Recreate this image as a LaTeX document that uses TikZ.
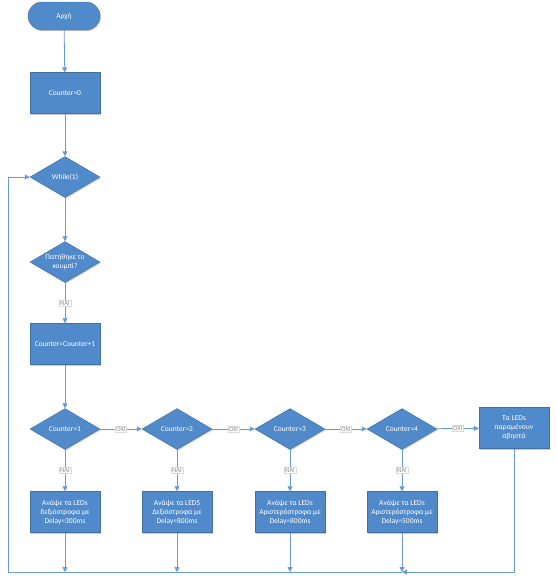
\documentclass[tikz,border=0pt]{standalone}
\usepackage{fontspec}
\setmainfont{Carlito}
\usetikzlibrary{arrows.meta,shapes.geometric,shadows}
\definecolor{flowblue}{HTML}{508ACA}
\definecolor{flowedge}{HTML}{41719C}
\definecolor{flowline}{HTML}{6A9BD0}
\tikzset{
    myshade/.style={drop shadow={shadow xshift=1pt,shadow yshift=-1pt,fill=black,opacity=0.2}},
    myblock/.style={rectangle,fill=flowblue,draw=flowedge,line width=0.4pt,minimum width=70pt,minimum height=41pt,inner sep=1pt,align=center,text=white,myshade},
    mydecision/.style={diamond,fill=flowblue,draw=flowedge,line width=0.4pt,minimum width=70pt,minimum height=41pt,inner sep=0pt,aspect=1.75,align=center,text=white,myshade},
    myterm/.style={rectangle,rounded corners=14pt,fill=flowblue,draw=flowedge,line width=0.4pt,minimum width=72pt,minimum height=28pt,text=white,myshade},
    myline/.style={line width=0.8pt,draw=flowline},
    myarrow/.style={myline,-{Triangle[length=5pt,width=5pt]}},
    mylabel/.style={fill=white,draw=black!15,line width=0.3pt,text=black!45,font=\fontsize{6.5}{7.5}\selectfont,inner sep=1pt},
    every node/.style={font=\fontsize{7.5}{9}\selectfont}
}
\begin{document}
\begin{tikzpicture}[x=1pt,y=-1pt]
  \useasboundingbox (0,0) rectangle (556,584);
  % main column
  \node[myterm] (start) at (64,16) {Αρχή};
  \node[myblock] (init) at (65,93) {Counter=0};
  \node[mydecision] (while) at (65,177) {While(1)};
  \node[mydecision] (button) at (65,262) {Πατήθηκε το\\κουμπί?};
  \node[myblock] (incr) at (65,344) {Counter=Counter+1};
  % checks
  \node[mydecision] (c1) at (65,429) {Counter=1};
  \node[mydecision] (c2) at (177,429) {Counter=2};
  \node[mydecision] (c3) at (290,429) {Counter=3};
  \node[mydecision] (c4) at (402,429) {Counter=4};
  \node[myblock] (off) at (514,428) {Τα LEDs\\παραμένουν\\σβηστά};
  % actions
  \node[myblock] (a1) at (65,512) {Ανάψε τα LEDs\\δεξιόστροφα με\\Delay=300ms};
  \node[myblock] (a2) at (177,512) {Ανάψε τα LEDS\\Δεξιόστροφα με\\Delay=800ms};
  \node[myblock] (a3) at (290,512) {Ανάψε τα LEDs\\Αριστερόστροφα με\\Delay=800ms};
  \node[myblock] (a4) at (402,512) {Ανάψε τα LEDs\\Αριστερόστροφα με\\Delay=500ms};
  \foreach \i/\x in {1/65,2/177,3/290,4/402}{\coordinate (j\i) at (\x,572);}
  \coordinate (back) at (8,572);

  \draw[myarrow] (start) -- (init);
  \draw[myarrow] (init) -- (while);
  \draw[myarrow] (while) -- (button);
  \draw[myarrow] (button) -- node[mylabel] {ΝΑΙ} (incr);
  \draw[myarrow] (incr) -- (c1);
  \foreach \a/\b in {c1/c2,c2/c3,c3/c4,c4/off}{
    \draw[myarrow] (\a) -- node[mylabel] {ΟΧΙ} (\b);
  }
  \foreach \i in {1,...,4}{
    \draw[myarrow] (c\i) -- node[mylabel] {ΝΑΙ} (a\i);
    \draw[myarrow] (a\i) -- (j\i);
  }
  \draw[myarrow] (off) |- (j4);
  \draw[myarrow] (j4) -- (back) |- (while.west);
\end{tikzpicture}
\end{document}
